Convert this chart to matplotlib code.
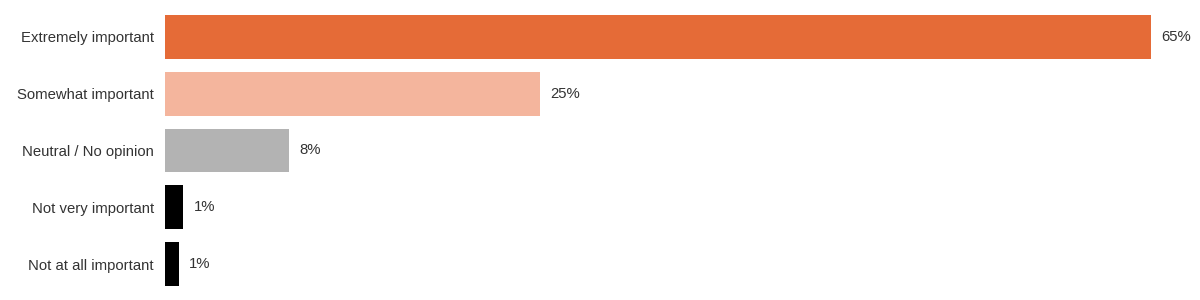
import matplotlib
matplotlib.use("Agg")
import matplotlib.pyplot as plt

plt.rcParams['font.family'] = ['Liberation Sans', 'DejaVu Sans']

# Datos del gráfico
categorias = ["Extremely important", "Somewhat important", "Neutral / No opinion",
              "Not very important", "Not at all important"]
valores = [65, 24.7, 8.2, 1.2, 0.9]
colores = ["#E56B37", "#F4B59D", "#B3B3B3", "#000000", "#000000"]

fig = plt.figure(figsize=(12, 3), dpi=100)
ax = fig.add_axes([165 / 1200, 14 / 300, (1151 - 165) / 1200, 271 / 300])

y = list(range(len(categorias)))
ax.barh(y, valores, height=0.775, color=colores)

for yi, v in zip(y, valores):
    ax.annotate(f"{round(v)}%", (v, yi), xytext=(7.5, 0), textcoords="offset points",
                va="center", ha="left", fontsize=10.7, color="#333333",
                annotation_clip=False)

ax.set_xlim(0, 65)
ax.set_ylim(4.3875, -0.3875)
ax.set_yticks(y)
ax.set_yticklabels(categorias, fontsize=10.7, color="#333333")
ax.tick_params(axis="y", length=0, pad=8)
ax.set_xticks([])
for s in ax.spines.values():
    s.set_visible(False)

fig.savefig("out.png", dpi=100)
